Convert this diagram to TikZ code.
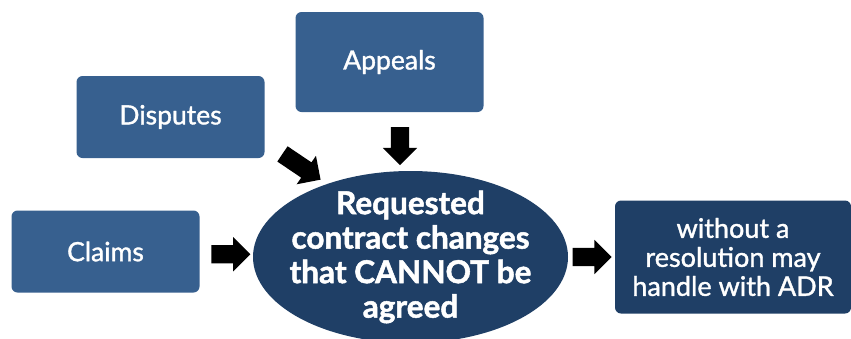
\documentclass[tikz,border=0pt]{standalone}
\usepackage{fontspec}
\setmainfont{Lato}[UprightFeatures={FakeBold=1.3},BoldFeatures={FakeBold=1.6}]
\usetikzlibrary{shapes.geometric,shapes.arrows,calc}
\definecolor{boxblue}{HTML}{37608F}
\definecolor{deepblue}{HTML}{1F3F66}

\begin{document}
\begin{tikzpicture}[x=1pt,y=-1pt,
  bx/.style={fill=boxblue,rounded corners=6pt,text=white,align=center,
    minimum width=188pt,minimum height=82pt,inner sep=0pt,font=\fontsize{26.5}{28}\selectfont},
  hub/.style={ellipse,fill=deepblue,text=white,align=center,inner xsep=-24pt,inner ysep=-12pt,
    minimum width=315pt,minimum height=172pt,font=\bfseries\fontsize{31.5}{34.5}\selectfont},
  outbx/.style={bx,fill=deepblue,minimum width=236pt,minimum height=113pt,
    font=\fontsize{27}{29}\selectfont},
  blk/.style={single arrow,fill=black,inner xsep=0pt,inner ysep=9pt,
    single arrow head extend=8pt,single arrow head indent=0pt,minimum height=39pt}]
\useasboundingbox (0,0) rectangle (851,338);
\node[bx,minimum height=100pt] (appeals) at (389.5,62) {Appeals};
\node[bx] (disputes) at (170.5,117) {Disputes};
\node[bx] (claims) at (105.5,251.5) {Claims};
\node[hub] (req) at (410.5,257) {Requested\\contract changes\\that CANNOT be\\agreed};
\node[outbx] (adr) at (733,257) {without a\\resolution may\\handle with ADR};
% block arrows into and out of the hub
\node[blk] (a1) at ($(claims.east)!0.5!(req.west)$) {};
\node[blk,rotate=-90,minimum height=38pt] (a2) at ($(appeals.south)!0.5!(req.north)$) {};
\node[blk,rotate=-34,minimum height=46pt] (a3) at ($(disputes.south east)+(33,6)$) {};
\node[blk] (a4) at ($(req.east)!0.5!(adr.west)+(-4,0)$) {};
\end{tikzpicture}
\end{document}
